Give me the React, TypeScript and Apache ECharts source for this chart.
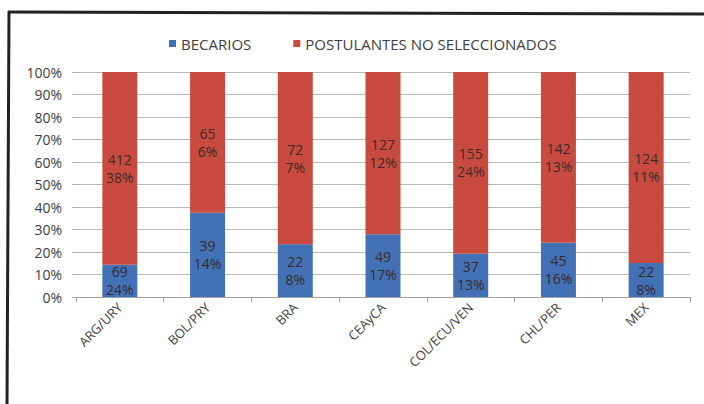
import React, { useEffect, useRef } from "react";
import * as echarts from "echarts";

const categories = ["ARG/URY", "BOL/PRY", "BRA", "CEAyCA", "COL/ECU/VEN", "CHL/PER", "MEX"];
const becarios = [69, 39, 22, 49, 37, 45, 22];
const postulantes = [412, 65, 72, 127, 155, 142, 124];
const becariosPct = [24, 14, 8, 17, 13, 16, 8];
const postulantesPct = [38, 6, 7, 12, 24, 13, 11];
const yTicks = [0, 10, 20, 30, 40, 50, 60, 70, 80, 90, 100];

const FONT = "'Open Sans', 'Liberation Sans', sans-serif";

export default function App() {
  const ref = useRef<HTMLDivElement>(null);
  useEffect(() => {
    document.body.style.margin = "0";
    if (!ref.current) return;
    const chart = echarts.init(ref.current, undefined, { renderer: "svg" });
    const totals = categories.map((_, i) => becarios[i] + postulantes[i]);
    const bShare = becarios.map((v, i) => (v / totals[i]) * 100);
    const pShare = postulantes.map((v, i) => (v / totals[i]) * 100);
    const labelStyle = {
      show: true,
      position: "inside",
      fontSize: 14,
      lineHeight: 18,
      color: "#3b2b2b",
      fontFamily: FONT,
    };
    chart.setOption({
      animation: false,
      backgroundColor: "#ffffff",
      legend: {
        top: 31,
        left: 164,
        itemWidth: 7,
        itemHeight: 7,
        itemGap: 42,
        icon: "rect",
        textStyle: { fontSize: 15, color: "#404040", fontFamily: FONT },
        data: ["BECARIOS", "POSTULANTES NO SELECCIONADOS"],
      },
      grid: { left: 76, right: 14, top: 72, bottom: 107, containLabel: false },
      xAxis: {
        type: "category",
        data: categories,
        axisLine: { show: true, lineStyle: { color: "#a0a0a0" } },
        axisTick: { show: true, length: 5, lineStyle: { color: "#a0a0a0" } },
        axisLabel: {
          rotate: 45,
          fontSize: 13,
          color: "#404040",
          fontFamily: FONT,
          margin: 8,
        },
      },
      yAxis: {
        type: "value",
        min: 0,
        max: 100,
        interval: 10,
        axisLine: { show: false },
        axisTick: { show: true, length: 4, lineStyle: { color: "#b0b0b0" } },
        splitLine: { show: true, lineStyle: { color: "#b8b8b8" } },
        axisLabel: {
          formatter: (v: number) => (yTicks.includes(v) ? `${v}%` : ""),
          fontSize: 14,
          color: "#404040",
          fontFamily: FONT,
          margin: 14,
        },
      },
      series: [
        {
          name: "BECARIOS",
          type: "bar",
          stack: "total",
          barWidth: 35,
          itemStyle: { color: "#4271b5" },
          label: {
            ...labelStyle,
            formatter: (p: any) => `${becarios[p.dataIndex]}\n${becariosPct[p.dataIndex]}%`,
          },
          data: bShare,
        },
        {
          name: "POSTULANTES NO SELECCIONADOS",
          type: "bar",
          stack: "total",
          barWidth: 35,
          itemStyle: { color: "#c94b3f" },
          label: {
            ...labelStyle,
            formatter: (p: any) => `${postulantes[p.dataIndex]}\n${postulantesPct[p.dataIndex]}%`,
          },
          data: pShare,
        },
      ],
      graphic: [
        {
          type: "line",
          shape: { x1: 9, y1: 11, x2: 7, y2: 404 },
          style: { stroke: "#222", lineWidth: 3 },
        },
        {
          type: "line",
          shape: { x1: 8, y1: 12, x2: 704, y2: 14 },
          style: { stroke: "#222", lineWidth: 3 },
        },
      ],
    });
    return () => chart.dispose();
  }, []);
  return <div ref={ref} style={{ width: 704, height: 404 }} />;
}
